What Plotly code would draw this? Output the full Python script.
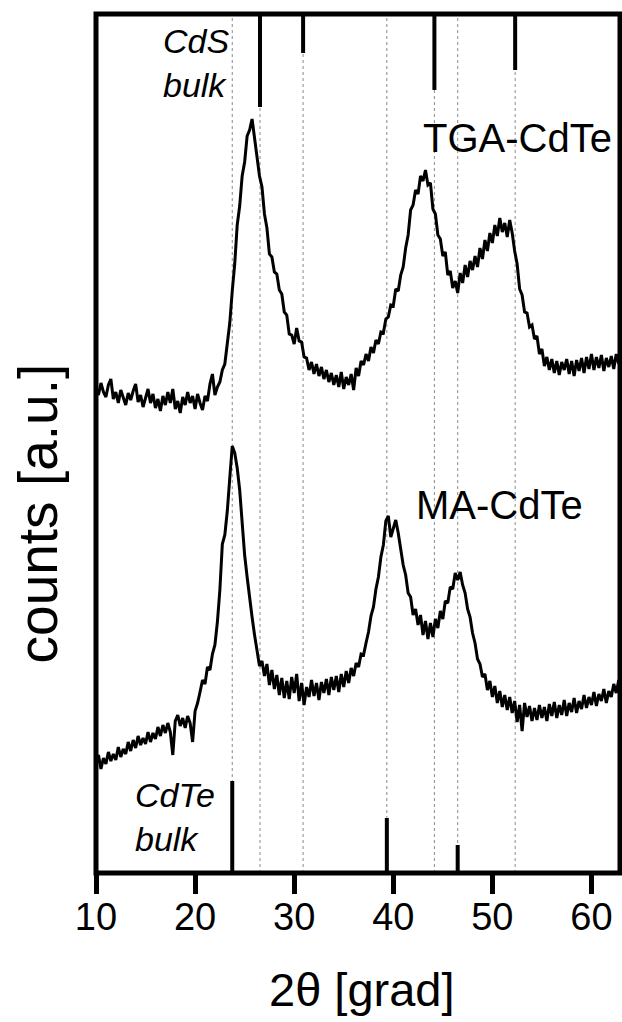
import plotly.graph_objects as go

# ---- data ----
x_start = 10.0
x_step = 0.25

tga_counts = [
    484, 478, 490, 481, 476, 488, 494, 474, 481, 470, 483, 476, 468, 480, 473, 482,
    489, 471, 478, 466, 475, 484, 470, 479, 465, 474, 462, 477, 468, 481, 470, 484,
    464, 472, 460, 476, 468, 481, 470, 477, 464, 479, 470, 463, 477, 472, 489, 499,
    478, 486, 491, 503, 509, 531, 550, 582, 609, 648, 667, 697, 711, 737, 743, 754,
    735, 721, 697, 686, 659, 645, 619, 616, 601, 599, 583, 579, 561, 558, 539, 538,
    529, 545, 532, 531, 516, 515, 503, 511, 499, 509, 497, 506, 494, 503, 491, 500,
    488, 498, 486, 501, 484, 496, 488, 499, 483, 505, 497, 512, 508, 519, 512, 526,
    520, 533, 529, 541, 540, 554, 556, 568, 567, 584, 582, 598, 606, 625, 638, 663,
    668, 683, 679, 697, 692, 703, 688, 690, 664, 659, 638, 634, 617, 621, 598, 602,
    585, 592, 580, 600, 590, 608, 596, 612, 603, 617, 606, 625, 614, 633, 622, 640,
    630, 648, 637, 655, 641, 650, 636, 653, 640, 622, 609, 584, 578, 561, 560, 546,
    548, 534, 537, 519, 524, 507, 516, 503, 514, 500, 512, 498, 511, 503, 514, 499,
    512, 497, 513, 502, 515, 500, 516, 504, 519, 503, 516, 505, 518, 502, 515, 506,
    517, 504, 519, 509, 522,
]

ma_counts = [
    108, 118, 104, 115, 109, 121, 112, 119, 113, 126, 116, 124, 119, 131, 122, 133,
    125, 137, 128, 135, 129, 141, 131, 140, 134, 146, 137, 148, 140, 150, 141, 118,
    152, 158, 147, 155, 145, 157, 150, 131, 162, 170, 181, 193, 189, 206, 203, 219,
    228, 251, 283, 329, 338, 362, 395, 427, 420, 405, 383, 345, 318, 296, 274, 256,
    238, 224, 207, 212, 197, 209, 188, 203, 184, 198, 178, 195, 175, 192, 174, 196,
    180, 199, 172, 190, 168, 186, 176, 193, 177, 190, 173, 191, 180, 194, 178, 196,
    183, 197, 181, 199, 186, 202, 190, 205, 197, 210, 206, 219, 218, 230, 241, 257,
    266, 284, 296, 316, 328, 352, 357, 336, 346, 353, 340, 322, 308, 298, 280, 276,
    258, 264, 248, 258, 238, 252, 234, 250, 236, 254, 245, 262, 254, 272, 270, 286,
    284, 300, 293, 301, 288, 280, 264, 256, 240, 230, 214, 209, 196, 199, 183, 192,
    176, 187, 170, 182, 166, 178, 163, 176, 160, 172, 151, 168, 142, 170, 156, 167,
    152, 165, 153, 168, 155, 166, 152, 169, 157, 171, 155, 168, 158, 173, 157, 170,
    161, 175, 160, 172, 164, 178, 165, 176, 168, 181, 167, 179, 172, 184, 170, 182,
    176, 189, 180, 193, 186,
]

# reference (bulk) reflections
cds_pos = [26.55, 30.9, 44.15, 52.3]
cds_len = [93, 39, 76, 56]
cdte_pos = [23.75, 39.35, 46.5]
cdte_len = [92, 55, 28]

x_ticks = [10, 20, 30, 40, 50, 60]
x_range = [10, 62.88]
y_range = [0, 859]

tga_x = [x_start + i * x_step for i in range(len(tga_counts))]
ma_x = [x_start + i * x_step for i in range(len(ma_counts))]

FONT = "Liberation Sans, Arial, sans-serif"

fig = go.Figure()
fig.add_trace(go.Scatter(x=tga_x, y=tga_counts, mode="lines",
                         line=dict(color="black", width=3), showlegend=False))
fig.add_trace(go.Scatter(x=ma_x, y=ma_counts, mode="lines",
                         line=dict(color="black", width=3), showlegend=False))

shapes = []
# dotted guide lines at all reference positions
for p in sorted(cds_pos + cdte_pos):
    shapes.append(dict(type="line", xref="x", yref="paper", x0=p, x1=p, y0=0, y1=1,
                       line=dict(color="#8a8a8a", width=1, dash="dot"), layer="below"))
# CdS sticks hanging from the top
for p, L in zip(cds_pos, cds_len):
    shapes.append(dict(type="line", xref="x", yref="y", x0=p, x1=p,
                       y0=y_range[1], y1=y_range[1] - L,
                       line=dict(color="black", width=4)))
# CdTe sticks standing on the bottom
for p, L in zip(cdte_pos, cdte_len):
    shapes.append(dict(type="line", xref="x", yref="y", x0=p, x1=p,
                       y0=y_range[0], y1=y_range[0] + L,
                       line=dict(color="black", width=4)))
# frame
shapes.append(dict(type="rect", xref="paper", yref="paper", x0=0, x1=1, y0=0, y1=1,
                   line=dict(color="black", width=5), layer="above"))

annotations = [
    dict(text="TGA-CdTe", x=52.5, y=735, xref="x", yref="y", showarrow=False,
         font=dict(size=40, color="black", family=FONT)),
    dict(text="MA-CdTe", x=50.7, y=368, xref="x", yref="y", showarrow=False,
         font=dict(size=40, color="black", family=FONT)),
    dict(text="<i>CdS</i><br><i>bulk</i>", x=16.6, y=810, xref="x", yref="y",
         xanchor="left", yanchor="middle", align="left", showarrow=False,
         font=dict(size=34, color="black", family=FONT)),
    dict(text="<i>CdTe</i><br><i>bulk</i>", x=13.7, y=56, xref="x", yref="y",
         xanchor="left", yanchor="middle", align="left", showarrow=False,
         font=dict(size=34, color="black", family=FONT)),
    dict(text="2θ [grad]", x=0.508, y=-0.136, xref="paper", yref="paper",
         xanchor="center", yanchor="middle", showarrow=False,
         font=dict(size=47, color="black", family=FONT)),
    dict(text="counts [a.u.]", x=-0.11, y=0.419, xref="paper", yref="paper",
         xanchor="center", yanchor="middle", textangle=-90, showarrow=False,
         font=dict(size=55, color="black", family=FONT)),
]

fig.update_layout(
    width=622, height=1022,
    margin=dict(l=96, r=2, t=14, b=149, pad=0),
    paper_bgcolor="white", plot_bgcolor="white",
    shapes=shapes, annotations=annotations,
    xaxis=dict(range=x_range, tickvals=x_ticks, ticks="outside", ticklen=20,
               tickwidth=5, tickcolor="black", showgrid=False, zeroline=False,
               showline=False, ticklabelstandoff=-10,
               tickfont=dict(size=38, color="black", family=FONT)),
    yaxis=dict(range=y_range, showticklabels=False, ticks="", showgrid=False,
               zeroline=False, showline=False),
)

fig.write_html("out.html")
